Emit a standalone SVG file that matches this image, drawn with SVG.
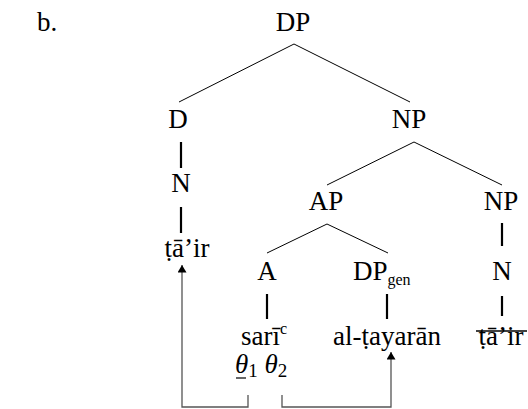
<svg xmlns="http://www.w3.org/2000/svg" width="528" height="409" viewBox="0 0 528 409">
  <style>
    .lbl { font-family: "Liberation Serif", "DejaVu Serif", "Times New Roman", serif; font-size: 27px; fill: #000; }
    .mid { text-anchor: middle; }
    .sub { font-size: 16px; }
    .idx { font-size: 19px; }
    .it { font-style: italic; }
    .branch { stroke: #000; stroke-width: 1; fill: none; }
    .stem { stroke: #000; stroke-width: 2.2; fill: none; }
    .link { stroke: #555; stroke-width: 1.3; fill: none; }
  </style>
  <defs>
    <marker id="head" viewBox="0 0 10 12" refX="10" refY="6" markerWidth="11" markerHeight="9" markerUnits="userSpaceOnUse" orient="auto">
      <path d="M0,0 L10,6 L0,12 Z" fill="#000"/>
    </marker>
  </defs>

  <g font-family="Liberation Serif, DejaVu Serif, serif" font-size="27">
    <text class="lbl" x="37" y="31">b.</text>

    <!-- tree branches and the theta-role links -->
    <g id="connectors">
      <line class="branch" x1="294" y1="44" x2="179" y2="102"/>
      <line class="branch" x1="294" y1="44" x2="410" y2="102"/>
      <line class="stem" x1="181" y1="142" x2="181" y2="168"/>
      <line class="stem" x1="181" y1="207" x2="181" y2="233"/>
      <line class="branch" x1="414" y1="142" x2="327" y2="185"/>
      <line class="branch" x1="414" y1="142" x2="502" y2="185"/>
      <line class="branch" x1="327" y1="224" x2="267" y2="253"/>
      <line class="branch" x1="327" y1="224" x2="388" y2="253"/>
      <line class="stem" x1="502" y1="223" x2="502" y2="246"/>
      <line class="stem" x1="267" y1="294" x2="267" y2="319"/>
      <line class="stem" x1="387" y1="294" x2="387" y2="319"/>
      <line class="stem" x1="502" y1="296" x2="502" y2="316"/>
      <polyline class="link" points="248,395 248,407 182,407 182,265" marker-end="url(#head)"/>
      <polyline class="link" points="282,395 282,407 391,407 391,352" marker-end="url(#head)"/>
    </g>

    <g id="n-DP"><text class="lbl mid" x="293" y="31">DP</text></g>
    <g id="n-D"><text class="lbl mid" x="178" y="128">D</text></g>
    <g id="n-NP1"><text class="lbl mid" x="409" y="128">NP</text></g>
    <g id="n-N1"><text class="lbl mid" x="181" y="192">N</text></g>
    <g id="n-AP"><text class="lbl mid" x="326" y="210">AP</text></g>
    <g id="n-NP2"><text class="lbl mid" x="501" y="210">NP</text></g>
    <g id="n-tair"><text class="lbl mid" x="187" y="257">ṭā’ir</text></g>
    <g id="n-A"><text class="lbl mid" x="267" y="280">A</text></g>
    <g id="n-DPgen"><text class="lbl" x="353" y="280">DP<tspan class="sub" dy="5">gen</tspan></text></g>
    <g id="n-N2"><text class="lbl mid" x="502" y="280">N</text></g>
    <g id="n-sari"><text class="lbl" x="241" y="345">sarī<tspan class="sub" dy="-11">c</tspan></text></g>
    <g id="n-altayaran"><text class="lbl mid" x="387" y="345">al-ṭayarān</text></g>
    <g id="n-tair-del">
      <text class="lbl mid" x="501" y="345">ṭā’ir</text>
      <line x1="476" y1="331" x2="527" y2="331" stroke="#000" stroke-width="1.5"/>
    </g>
    <g id="n-theta">
      <text class="lbl" x="235" y="373"><tspan class="it">θ</tspan><tspan class="idx" dy="4">1</tspan><tspan dy="-4"> </tspan><tspan class="it">θ</tspan><tspan class="idx" dy="4">2</tspan></text>
      <line x1="236" y1="378" x2="246" y2="378" stroke="#000" stroke-width="1.2"/>
    </g>
  </g>
</svg>
